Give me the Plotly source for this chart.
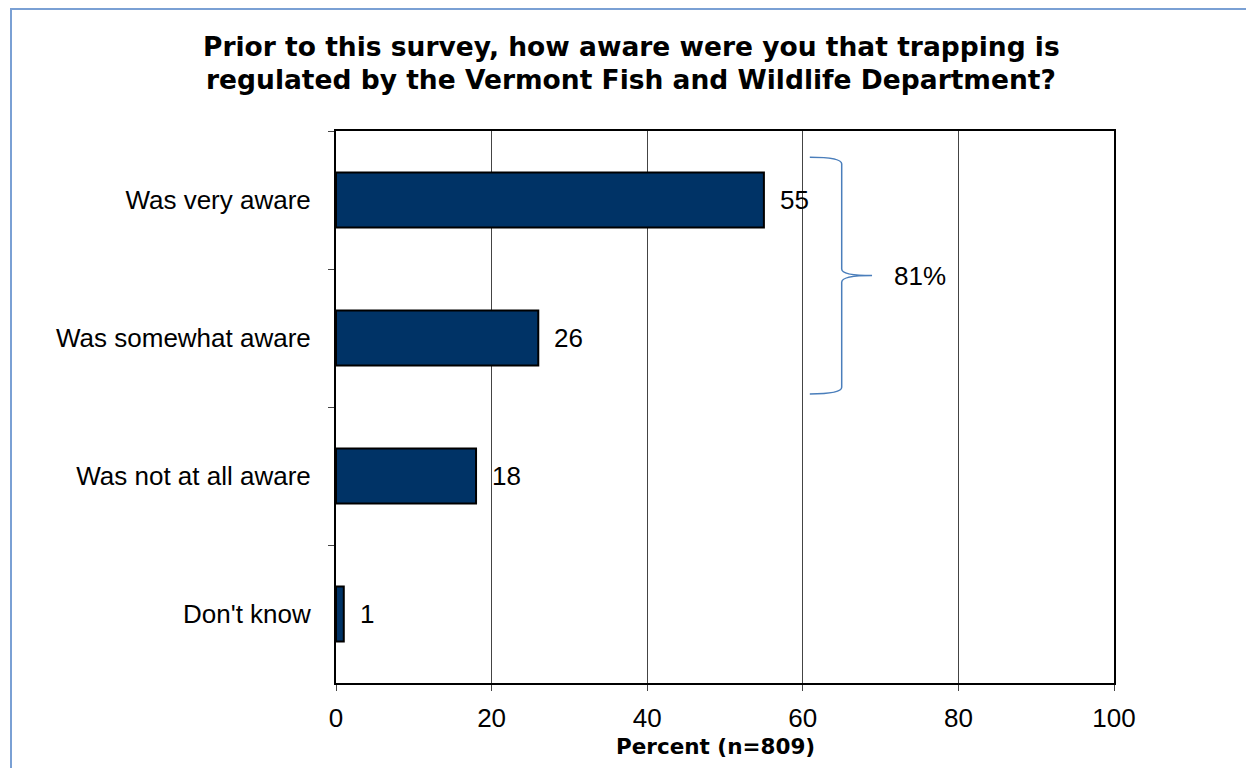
import plotly.graph_objects as go

categories = ["Was very aware", "Was somewhat aware", "Was not at all aware", "Don't know"]
values = [55, 26, 18, 1]
x_ticks = [0, 20, 40, 60, 80, 100]
brace_label = "81%"
title_lines = ["Prior to this survey, how aware were you that trapping is",
               "regulated by the Vermont Fish and Wildlife Department?"]
x_title = "Percent (n=809)"

FONT = "Liberation Sans, Arial, sans-serif"
BFONT = "DejaVu Sans, Liberation Sans, Arial, sans-serif"
OFF = 8  # page body offset
W, H = 1246, 760
L, T = 328, 123
pw, ph = 778, 552
R, B = W - L - pw, H - T - ph


def px(sx):
    return (sx - OFF - L) / pw


def py(sy):
    return (H - B - (sy - OFF)) / ph


fig = go.Figure()
fig.add_trace(go.Bar(
    y=categories, x=values, orientation="h", width=0.4,
    marker=dict(color="#003366", line=dict(color="black", width=2)),
    hoverinfo="x+y",
))

for c, v in zip(categories, values):
    fig.add_annotation(x=v, y=c, text=str(v), showarrow=False, xanchor="left",
                       yanchor="middle", xshift=14,
                       font=dict(size=26, color="black", family=FONT))

# brace across first two categories
n = len(categories)


def cy(idx):
    return 1 - (idx + 0.5) / n


ytop = cy(-0.31)
ybot = cy(1.405)
ymid = (ytop + ybot) / 2
d = 0.012
x0, x1, x2 = 60.9, 65.0, 68.9
path = (f"M {x0},{ytop} Q {x1},{ytop} {x1},{ytop-d} L {x1},{ymid+d} "
        f"Q {x1},{ymid} {x2},{ymid} Q {x1},{ymid} {x1},{ymid-d} "
        f"L {x1},{ybot+d} Q {x1},{ybot} {x0},{ybot}")
fig.add_shape(type="path", path=path, xref="x", yref="paper",
              line=dict(color="#4a7ebb", width=1.5))
fig.add_annotation(x=75.1, y=ymid, xref="x", yref="paper", text=brace_label,
                   showarrow=False, xanchor="center", yanchor="middle",
                   font=dict(size=26, color="black", family=FONT))

# title lines
for i, line in enumerate(title_lines):
    fig.add_annotation(x=px(631), y=py(46 + 34 * i), xref="paper", yref="paper",
                       text="<b>" + line + "</b>", showarrow=False,
                       xanchor="center", yanchor="middle",
                       font=dict(size=26.5, family=BFONT, color="black"))

# axis title
fig.add_annotation(x=px(715), y=py(746), xref="paper", yref="paper",
                   text="<b>" + x_title + "</b>", showarrow=False,
                   xanchor="center", yanchor="middle",
                   font=dict(size=21.5, family=BFONT, color="black"))

# outer border
fig.add_shape(type="rect", xref="paper", yref="paper",
              x0=px(11), x1=px(1262), y0=py(780), y1=py(9),
              line=dict(color="#7aa0d4", width=2), layer="below")

fig.update_layout(
    width=W, height=H,
    margin=dict(l=L, r=R, t=T, b=B),
    paper_bgcolor="white", plot_bgcolor="white",
    showlegend=False,
    font=dict(family=FONT, color="black", size=26),
)
fig.update_xaxes(
    range=[0, 100], tickvals=x_ticks, showgrid=True, gridcolor="#444444", gridwidth=1,
    showline=True, linecolor="black", linewidth=2, mirror=True,
    ticks="outside", ticklen=6, tickcolor="#444444", tickwidth=1,
    ticklabelstandoff=5, zeroline=False,
    tickfont=dict(size=26, family=FONT, color="black"),
)
fig.update_yaxes(
    categoryorder="array", categoryarray=categories, autorange="reversed",
    showline=True, linecolor="black", linewidth=2, mirror=True,
    ticks="outside", ticklen=6, tickcolor="#444444", tickwidth=1, tickson="boundaries",
    ticklabelstandoff=18, showgrid=False,
    tickfont=dict(size=26, family=FONT, color="black"),
)

fig.write_html("out.html")
